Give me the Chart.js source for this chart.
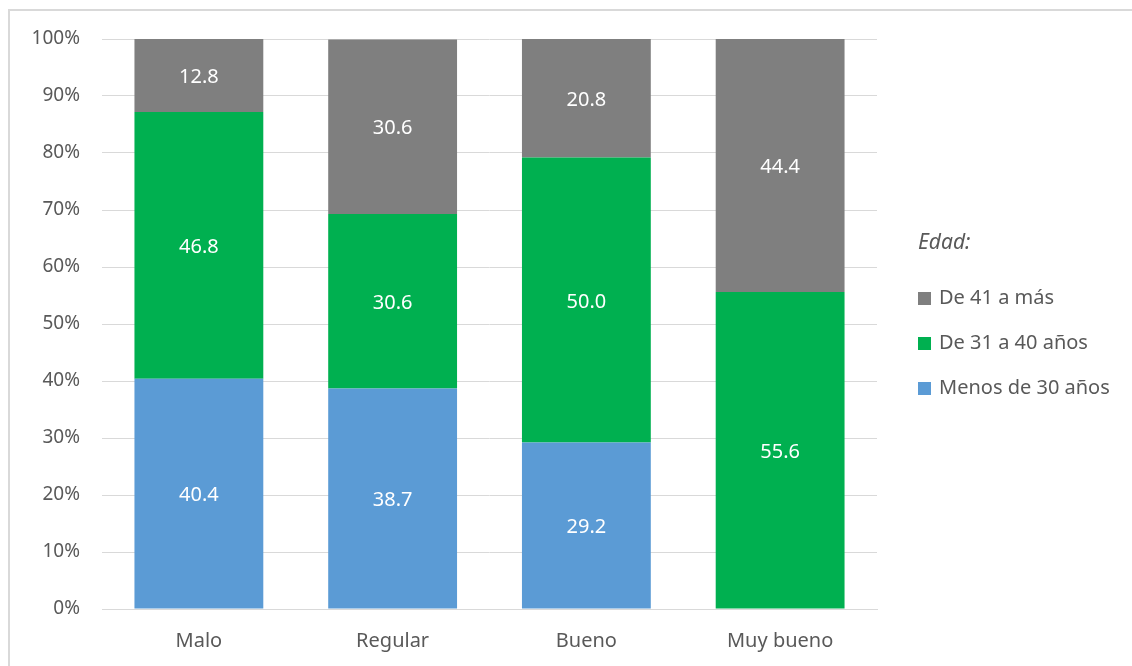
<!DOCTYPE html>
<html>
<head>
<meta charset="utf-8">
<script src="https://cdn.jsdelivr.net/npm/chart.js@4"></script>
<style>
  body { margin: 0; background: #fff; font-family: "Noto Sans", sans-serif; }
  #wrap { position: relative; width: 1132px; height: 666px; overflow: hidden; }
  #frame { position: absolute; left: 8px; top: 9px; width: 1200px; height: 700px;
           border-left: 2px solid #d9d9d9; border-top: 2px solid #d9d9d9; }
  canvas { position: absolute; left: 0; top: 0; }
  #legend { position: absolute; left: 918px; top: 224px; color: #595959; font-size: 20px; }
  #legend .title { font-style: italic; font-size: 21px; height: 34px; line-height: 34px; margin-bottom: 22px; }
  #legend .item { height: 45px; line-height: 34px; white-space: nowrap; }
  #legend .sw { display: inline-block; width: 13px; height: 13px; margin-right: 8px; vertical-align: -1px; }
</style>
</head>
<body>
<div id="wrap">
  <div id="frame"></div>
  <canvas id="chart" width="1132" height="666"></canvas>
  <div id="legend"></div>
</div>
<script>
var categories = ['Malo', 'Regular', 'Bueno', 'Muy bueno'];
var menos30 = [40.4, 38.7, 29.2, 0];
var de31a40 = [46.8, 30.6, 50.0, 55.6];
var de41 = [12.8, 30.6, 20.8, 44.4];
var yTicks = [0, 10, 20, 30, 40, 50, 60, 70, 80, 90, 100];

var seriesNames = ['Menos de 30 años', 'De 31 a 40 años', 'De 41 a más'];
var seriesColors = ['#5B9BD5', '#00B050', '#7F7F7F'];
var seriesData = [menos30, de31a40, de41];

var datasets = seriesData.map(function (d, i) {
    return {
        label: seriesNames[i],
        data: d,
        backgroundColor: seriesColors[i],
        borderWidth: 0,
        categoryPercentage: 1,
        barPercentage: 0.665
    };
});

// white value labels in the middle of each segment
var valueLabels = {
    id: 'valueLabels',
    afterDatasetsDraw: function (chart) {
        var ctx = chart.ctx;
        ctx.save();
        ctx.fillStyle = '#ffffff';
        ctx.font = '20px "Noto Sans"';
        ctx.textAlign = 'center';
        ctx.textBaseline = 'middle';
        chart.data.datasets.forEach(function (ds, i) {
            chart.getDatasetMeta(i).data.forEach(function (bar, j) {
                var v = ds.data[j];
                if (!v) return;
                var yMid = (bar.y + bar.base) / 2 + 2;
                ctx.fillText(v.toFixed(1), bar.x, yMid);
            });
        });
        ctx.restore();
    }
};

new Chart(document.getElementById('chart').getContext('2d'), {
    type: 'bar',
    data: { labels: categories, datasets: datasets },
    plugins: [valueLabels],
    options: {
        responsive: false,
        animation: false,
        layout: { padding: { left: 10, right: 255, top: 39, bottom: 0 } },
        plugins: { legend: { display: false }, tooltip: { enabled: false } },
        scales: {
            x: {
                stacked: true,
                grid: { display: false, drawTicks: false },
                border: { color: '#d9d9d9', width: 1 },
                ticks: { color: '#595959', font: { family: 'Noto Sans', size: 20 }, padding: 20 },
                afterFit: function (s) { s.height = 57; }
            },
            y: {
                stacked: true,
                min: 0,
                max: 100,
                afterBuildTicks: function (s) { s.ticks = yTicks.map(function (v) { return { value: v }; }); },
                grid: { color: '#d9d9d9', drawTicks: false },
                border: { display: false },
                ticks: {
                    color: '#595959',
                    font: { family: 'Noto Sans', size: 19 },
                    padding: 22,
                    callback: function (v) { return v + '%'; }
                },
                afterFit: function (s) { s.width = 92; }
            }
        }
    }
});

// legend on the right, in reversed order like the original
var leg = document.getElementById('legend');
var html = '<div class="title">Edad:</div>';
for (var i = seriesNames.length - 1; i >= 0; i--) {
    html += '<div class="item"><span class="sw" style="background:' + seriesColors[i] + '"></span>' + seriesNames[i] + '</div>';
}
leg.innerHTML = html;
</script>
</body>
</html>
